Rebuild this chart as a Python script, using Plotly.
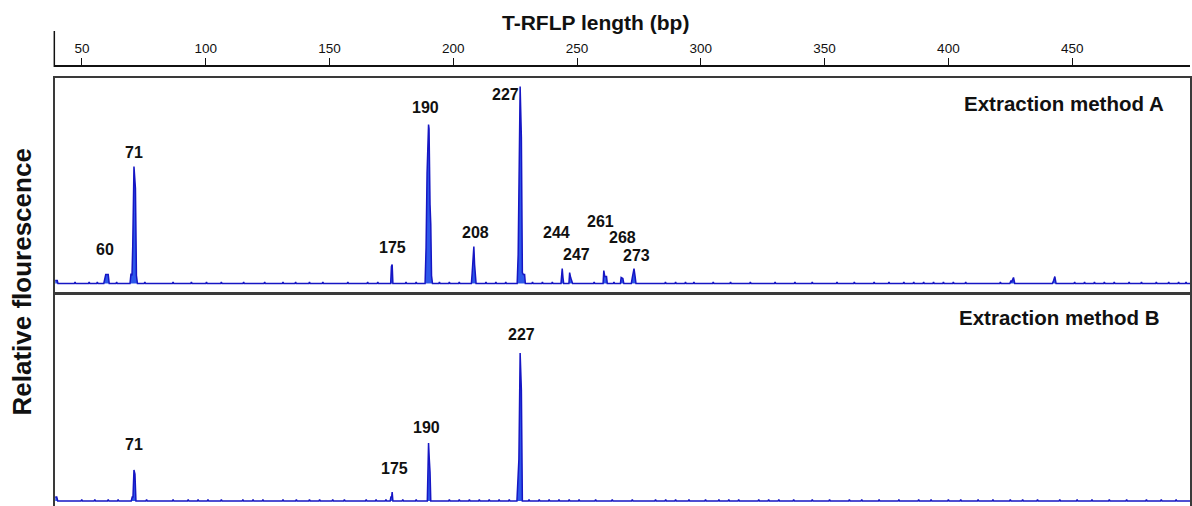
import plotly.graph_objects as go

# ---- T-RFLP electropherogram data (fragment length in bp, relative fluorescence) ----
BP_RANGE = [39.1, 497.6]
TICKS_BP = [50, 100, 150, 200, 250, 300, 350, 400, 450]

# Method A: peak profiles as (bp, signal) samples
A_START = [(39.2, 3), (40.0, 3), (40.3, 0)]
A_PEAKS = {
    60:  [(58.8, 0), (59.3, 5), (59.6, 9), (60.6, 9), (61.0, 0)],
    71:  [(69.4, 0), (69.8, 10), (70.2, 8), (70.5, 37), (71.0, 117), (71.6, 95), (72.0, 8), (72.4, 0)],
    175: [(174.7, 0), (175.0, 17), (175.3, 19), (175.6, 0)],
    190: [(188.6, 0), (189.0, 36), (189.4, 110), (190.0, 159), (190.2, 155), (190.6, 79),
          (190.9, 59), (191.2, 8), (191.6, 0)],
    208: [(207.3, 0), (207.6, 10), (207.8, 16), (208.0, 25), (208.3, 37), (208.6, 19), (208.9, 8), (209.2, 0)],
    227: [(225.8, 0), (226.2, 29), (226.5, 77), (227.0, 197), (227.5, 146), (227.9, 11),
          (228.3, 9), (228.8, 9), (229.1, 0)],
    244: [(243.5, 0), (243.8, 6), (244.0, 15), (244.3, 6), (244.6, 0)],
    247: [(246.7, 0), (247.0, 11), (247.4, 6), (247.8, 3), (248.2, 0)],
    261: [(260.5, 0), (260.8, 13), (261.2, 7), (261.9, 7), (262.2, 0)],
    268: [(267.5, 0), (267.8, 6), (268.5, 5), (268.9, 0)],
    273: [(271.9, 0), (272.3, 6), (272.7, 11), (273.0, 15), (273.4, 8), (273.8, 0)],
}
A_MINOR = [(424.8, 0), (425.3, 3), (425.6, 2), (426.3, 6), (426.8, 0),
           (442.0, 0), (442.5, 3), (443.0, 7), (443.5, 0)]
A_NOISE = [47.2, 52.9, 56.2, 64.0, 75.4, 86.8, 94.2, 100.3, 106.3, 115.3, 123.8, 131.2,
           136.3, 141.9, 147.3, 157.4, 165.4, 169.5, 180.9, 185.0, 194.4, 198.4, 202.4,
           213.2, 217.2, 221.2, 232.0, 236.0, 240.0, 256.9, 264.9, 285.7, 289.8, 293.8,
           297.2, 305, 312, 320, 330, 338, 345, 355, 362, 370, 376, 382, 386, 390, 394,
           398, 402, 407, 421, 440, 451, 455, 459, 463, 467, 473, 478, 484, 489, 493, 496]

# Method B
B_START = [(39.2, 4), (39.8, 4), (40.2, 0)]
B_PEAKS = {
    71:  [(69.9, 0), (70.3, 4), (70.6, 4), (71.0, 31), (71.4, 27), (71.8, 0)],
    175: [(174.5, 0), (174.8, 4), (175.1, 4), (175.3, 9), (175.6, 0)],
    190: [(189.5, 0), (189.8, 30), (190.0, 58), (190.3, 42), (190.6, 29), (190.9, 0)],
    227: [(225.7, 0), (226.1, 18), (226.5, 42), (227.0, 148), (227.5, 111), (227.9, 0)],
}
B_NOISE = [49.9, 55.2, 60.6, 64.6, 76.1, 86.8, 92.9, 96.9, 100.9, 106.3, 115.0, 119.1,
           123.1, 131.2, 136.6, 141.9, 146.0, 151.3, 156.0, 164.8, 168.8, 172.8, 179.6,
           185.0, 198.4, 202.4, 206.5, 210.5, 214.5, 218.5, 222.6, 230.6, 234.7, 238.7,
           242.7, 246.8, 250.8, 257.5, 264.2, 272.3, 281.7, 285.8, 289.8, 295.2, 301.9,
           307.3, 311.3, 315.3, 323.4, 327.4, 331.5, 337.5, 345, 352, 360, 365, 372, 380,
           388, 393, 400, 405, 412, 418, 425, 430, 436, 445, 452, 458, 465, 472, 480,
           486, 492]
NOISE_LEVEL = 1.5

# Label offsets (pixels) relative to each peak apex: (dx, dy)
A_LABEL_OFFSETS = {60: (-2, 25), 71: (0, 14), 175: (1, 17), 190: (-3, 17), 208: (2, 14),
                   227: (-15, -8), 244: (-6, 36), 247: (7, 18), 261: (-4, 49),
                   268: (1, 40), 273: (2, 13)}
B_LABEL_OFFSETS = {71: (0, 25), 175: (3, 23), 190: (-2, 15), 227: (1, 18)}


def build_trace(start, peaks, minor, noise):
    pts = list(start) + list(minor)
    for prof in peaks.values():
        pts += prof
    occupied = [(p[0][0] - 0.6, p[-1][0] + 0.6) for p in peaks.values()]
    occupied += [(minor[i][0] - 0.6, minor[i + 1][0] + 0.6) for i in range(0, len(minor) - 1)]
    for b in noise:
        if any(lo <= b <= hi for lo, hi in occupied):
            continue
        pts += [(b - 0.3, 0), (b, NOISE_LEVEL), (b + 0.3, 0)]
    pts.append((BP_RANGE[1], 0))
    pts.sort(key=lambda p: p[0])
    return [p[0] for p in pts], [p[1] for p in pts]


xa, ya = build_trace(A_START, A_PEAKS, A_MINOR, A_NOISE)
xb, yb = build_trace(B_START, B_PEAKS, [], B_NOISE)

LINE = "#1616c4"
FILL = "#2d58ea"
SANS = "Arial Narrow, Liberation Sans, Arial"
LABEL_FONT = dict(family=SANS, size=16, color="#111111")

fig = go.Figure()
fig.add_trace(go.Scatter(x=xa, y=ya, xaxis="x", yaxis="y", mode="lines",
                         line=dict(color=LINE, width=1.5), fill="tozeroy",
                         fillcolor=FILL, hoverinfo="skip", showlegend=False))
fig.add_trace(go.Scatter(x=xb, y=yb, xaxis="x2", yaxis="y2", mode="lines",
                         line=dict(color=LINE, width=1.5), fill="tozeroy",
                         fillcolor=FILL, hoverinfo="skip", showlegend=False))
# carrier for the length scale drawn above the panels
fig.add_trace(go.Scatter(x=BP_RANGE, y=[0, 0], xaxis="x3", yaxis="y3", mode="lines",
                         line=dict(width=0), opacity=0, hoverinfo="skip", showlegend=False))

annotations = []
for bp, (dx, dy) in A_LABEL_OFFSETS.items():
    top = max(v for _, v in A_PEAKS[bp])
    annotations.append(dict(x=bp, y=top, xref="x", yref="y", text=f"<b>{bp}</b>",
                            showarrow=False, xshift=dx, yshift=dy, font=LABEL_FONT))
for bp, (dx, dy) in B_LABEL_OFFSETS.items():
    top = max(v for _, v in B_PEAKS[bp])
    annotations.append(dict(x=bp, y=top, xref="x2", yref="y2", text=f"<b>{bp}</b>",
                            showarrow=False, xshift=dx, yshift=dy, font=LABEL_FONT))

PANEL_FONT = dict(family=SANS, size=20.5, color="#111111")
annotations += [
    dict(x=0.979, y=0.7964, xref="paper", yref="paper", xanchor="right", yanchor="middle",
         text="<b>Extraction method A</b>", showarrow=False, font=PANEL_FONT),
    dict(x=0.9745, y=0.3735, xref="paper", yref="paper", xanchor="right", yanchor="middle",
         text="<b>Extraction method B</b>", showarrow=False, font=PANEL_FONT),
    dict(x=0.4758, y=0.9565, xref="paper", yref="paper", xanchor="center", yanchor="middle",
         text="<b>T-RFLP length (bp)</b>", showarrow=False,
         font=dict(family=SANS, size=21, color="#111111")),
    dict(x=-0.0295, y=0.4427, xref="paper", yref="paper", xanchor="center", yanchor="middle",
         text="<b>Relative flourescence</b>", showarrow=False, textangle=-90,
         font=dict(family="Liberation Sans, Arial", size=26, color="#111111")),
]

panel_x = dict(range=BP_RANGE, showgrid=False, zeroline=False, showticklabels=False,
               ticks="", showline=True, mirror=True, linecolor="#3a3a3a", linewidth=2)
panel_y = dict(showgrid=False, zeroline=False, showticklabels=False, ticks="",
               showline=True, mirror=True, linecolor="#3a3a3a", linewidth=2)

fig.update_layout(
    width=1192, height=506,
    margin=dict(l=55, r=0, t=0, b=0),
    paper_bgcolor="white", plot_bgcolor="white",
    xaxis=dict(domain=[0, 1], anchor="y", **panel_x),
    yaxis=dict(domain=[0.4209, 0.8458], anchor="x", range=[-9.5, 205.5], **panel_y),
    xaxis2=dict(domain=[0, 1], anchor="y2", **panel_x),
    yaxis2=dict(domain=[0, 0.4190], anchor="x2", range=[-5, 207], **panel_y),
    xaxis3=dict(domain=[0, 1], anchor="y3", side="top", range=BP_RANGE,
                tickvals=TICKS_BP, ticktext=[str(t) for t in TICKS_BP],
                ticks="outside", ticklen=7, tickwidth=1.2, tickcolor="#111111",
                showline=True, linecolor="#111111", linewidth=1.5,
                showgrid=False, zeroline=False,
                tickfont=dict(family=SANS, size=13.5, color="#111111")),
    yaxis3=dict(domain=[0.860, 0.8676], anchor="x3", visible=False, range=[-1, 1]),
    annotations=annotations,
    shapes=[dict(type="line", xref="paper", yref="paper", x0=-0.0006, x1=-0.0006,
                 y0=0.8676, y1=0.9387, line=dict(color="#111111", width=1.5))],
)

fig.write_html("out.html")
